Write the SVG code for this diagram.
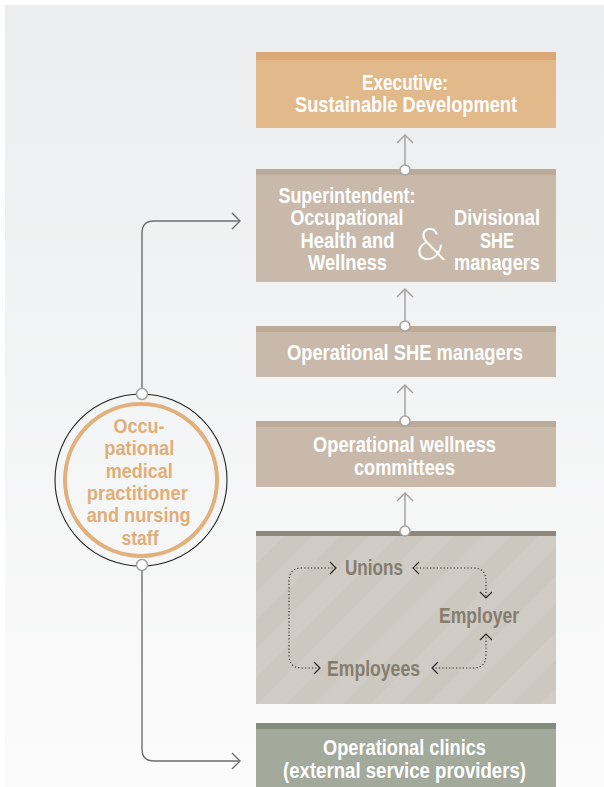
<svg xmlns="http://www.w3.org/2000/svg" width="604" height="787" viewBox="0 0 604 787">
<defs>
<linearGradient id="bg" x1="0" y1="0" x2="0" y2="1">
<stop offset="0" stop-color="#EBEDEE"/>
<stop offset="1" stop-color="#FBFBFB"/>
</linearGradient>
<pattern id="diag" width="40" height="40" patternUnits="userSpaceOnUse" patternTransform="rotate(45)">
<rect width="40" height="40" fill="#CCC7BF"/>
<rect width="20" height="40" fill="#D0CBC4"/>
</pattern>
<marker id="chev" viewBox="-10 -10 20 20" markerWidth="20" markerHeight="20" refX="0" refY="0" orient="auto" markerUnits="userSpaceOnUse">
<path d="M-8,-8 L0,0 L-8,8" fill="none" stroke="#A6A3A0" stroke-width="1.5"/>
</marker>
<marker id="chevD" viewBox="-10 -10 20 20" markerWidth="20" markerHeight="20" refX="0" refY="0" orient="auto" markerUnits="userSpaceOnUse">
<path d="M-8,-8 L0,0 L-8,8" fill="none" stroke="#6E6E6E" stroke-width="1.4"/>
</marker>
<marker id="chevS" viewBox="-8 -8 16 16" markerWidth="16" markerHeight="16" refX="0" refY="0" orient="auto" markerUnits="userSpaceOnUse">
<path d="M-6,-6 L0,0 L-6,6" fill="none" stroke="#222" stroke-width="1.1"/>
</marker>
<marker id="chevSs" viewBox="-8 -8 16 16" markerWidth="16" markerHeight="16" refX="0" refY="0" orient="auto-start-reverse" markerUnits="userSpaceOnUse">
<path d="M-6,-6 L0,0 L-6,6" fill="none" stroke="#222" stroke-width="1.1"/>
</marker>
</defs>
<style>
text { font-family: "Liberation Sans", Arial, sans-serif; font-weight: bold; font-size: 21.5px; text-anchor: middle; }
.w { fill: #FFFFFF; }
.u { fill: #857D6E; }
.o { fill: #E0AE78; font-size: 20px; }
.amp { font-family: Lato, "Open Sans", sans-serif; font-weight: 300; font-size: 46px; }
.vline { stroke: #A6A3A0; stroke-width: 1.5; fill: none; }
.dot { fill: #FFFFFF; stroke: #A6A3A0; stroke-width: 1.5; }
.lk { stroke: #6E6E6E; stroke-width: 1.4; fill: none; }
.dt { stroke: #222; stroke-width: 1.1; fill: none; stroke-dasharray: 1.2 2.2; }
</style>
<rect x="0" y="0" width="604" height="787" fill="#FFFFFF"/>
<rect x="5" y="5" width="599" height="782" fill="url(#bg)"/>

<g id="executive">
<rect x="256" y="52" width="300" height="76" fill="#E2B98A"/>
<rect x="256" y="52" width="300" height="8" fill="#DBA977"/>
<text class="w" x="405" y="90" textLength="86" lengthAdjust="spacingAndGlyphs">Executive:</text>
<text class="w" x="406" y="112" textLength="222" lengthAdjust="spacingAndGlyphs">Sustainable Development</text>
</g>

<g id="superintendent">
<rect x="256" y="169" width="300" height="113" fill="#C8B9AA"/>
<rect x="256" y="169" width="300" height="6" fill="#BBAA99"/>
<text class="w" x="347" y="203" textLength="137" lengthAdjust="spacingAndGlyphs">Superintendent:</text>
<text class="w" x="347" y="225" textLength="113" lengthAdjust="spacingAndGlyphs">Occupational</text>
<text class="w" x="347.5" y="248" textLength="94" lengthAdjust="spacingAndGlyphs">Health and</text>
<text class="w" x="347.5" y="270" textLength="79" lengthAdjust="spacingAndGlyphs">Wellness</text>
<text class="w amp" x="431" y="260" textLength="30" lengthAdjust="spacingAndGlyphs">&amp;</text>
<text class="w" x="497" y="225" textLength="86" lengthAdjust="spacingAndGlyphs">Divisional</text>
<text class="w" x="497" y="248" textLength="34" lengthAdjust="spacingAndGlyphs">SHE</text>
<text class="w" x="497" y="270" textLength="86" lengthAdjust="spacingAndGlyphs">managers</text>
</g>

<g id="op-she">
<rect x="256" y="326" width="300" height="51" fill="#C8B9AA"/>
<rect x="256" y="326" width="300" height="6" fill="#BBAA99"/>
<text class="w" x="405" y="360" textLength="236" lengthAdjust="spacingAndGlyphs">Operational SHE managers</text>
</g>

<g id="wellness">
<rect x="256" y="421" width="300" height="66" fill="#C8B9AA"/>
<rect x="256" y="421" width="300" height="6" fill="#BBAA99"/>
<text class="w" x="404.5" y="452" textLength="183" lengthAdjust="spacingAndGlyphs">Operational wellness</text>
<text class="w" x="404.5" y="475" textLength="101" lengthAdjust="spacingAndGlyphs">committees</text>
</g>

<g id="stakeholders">
<rect x="256" y="531" width="300" height="173" fill="url(#diag)"/>
<rect x="256" y="531" width="300" height="5" fill="#8F8778"/>
<text class="u" x="374" y="575" textLength="58" lengthAdjust="spacingAndGlyphs">Unions</text>
<text class="u" x="479" y="623" textLength="80" lengthAdjust="spacingAndGlyphs">Employer</text>
<text class="u" x="373.5" y="676" textLength="93" lengthAdjust="spacingAndGlyphs">Employees</text>
</g>

<g id="clinics">
<rect x="256" y="723" width="300" height="64" fill="#A3A99B"/>
<rect x="256" y="723" width="300" height="6" fill="#838C7D"/>
<text class="w" x="404.5" y="755" textLength="163" lengthAdjust="spacingAndGlyphs">Operational clinics</text>
<text class="w" x="404.5" y="778" textLength="243" lengthAdjust="spacingAndGlyphs">(external service providers)</text>
</g>

<g id="practitioner">
<circle cx="141" cy="480" r="86" fill="none" stroke="#222" stroke-width="1.1"/>
<circle cx="141" cy="480" r="76" fill="none" stroke="#E2B07C" stroke-width="4"/>
<text class="o" x="139" y="433" textLength="51" lengthAdjust="spacingAndGlyphs">Occu-</text>
<text class="o" x="139.3" y="455" textLength="70" lengthAdjust="spacingAndGlyphs">pational</text>
<text class="o" x="139.2" y="478" textLength="67" lengthAdjust="spacingAndGlyphs">medical</text>
<text class="o" x="137.3" y="500" textLength="101" lengthAdjust="spacingAndGlyphs">practitioner</text>
<text class="o" x="138.7" y="522" textLength="104" lengthAdjust="spacingAndGlyphs">and nursing</text>
<text class="o" x="140" y="545" textLength="37" lengthAdjust="spacingAndGlyphs">staff</text>
</g>

<g id="connectors">
<path class="vline" d="M405,170 V135" marker-end="url(#chev)"/>
<path class="vline" d="M405,326 V289" marker-end="url(#chev)"/>
<path class="vline" d="M405,421 V385" marker-end="url(#chev)"/>
<path class="vline" d="M405,531 V493" marker-end="url(#chev)"/>
<circle class="dot" cx="405" cy="170" r="5"/>
<circle class="dot" cx="405" cy="326" r="5"/>
<circle class="dot" cx="405" cy="421" r="5"/>
<circle class="dot" cx="405" cy="531" r="5"/>

<path class="lk" d="M142,394 V233 Q142,221 154,221 H240" marker-end="url(#chevD)"/>
<path class="lk" d="M142,565 V749 Q142,761 154,761 H240" marker-end="url(#chevD)"/>
<circle class="dot" cx="142" cy="394" r="5.5" stroke="#555"/>
<circle class="dot" cx="142" cy="565" r="5.5" stroke="#555"/>

<path class="dt" d="M336,568 H302 Q289,568 289,581 V655 Q289,668 302,668 H320" marker-start="url(#chevSs)" marker-end="url(#chevS)"/>
<path class="dt" d="M413,568 H473 Q486,568 486,581 V598" marker-start="url(#chevSs)" marker-end="url(#chevS)"/>
<path class="dt" d="M486,634 V655 Q486,668 473,668 H432" marker-start="url(#chevSs)" marker-end="url(#chevS)"/>
</g>
</svg>
